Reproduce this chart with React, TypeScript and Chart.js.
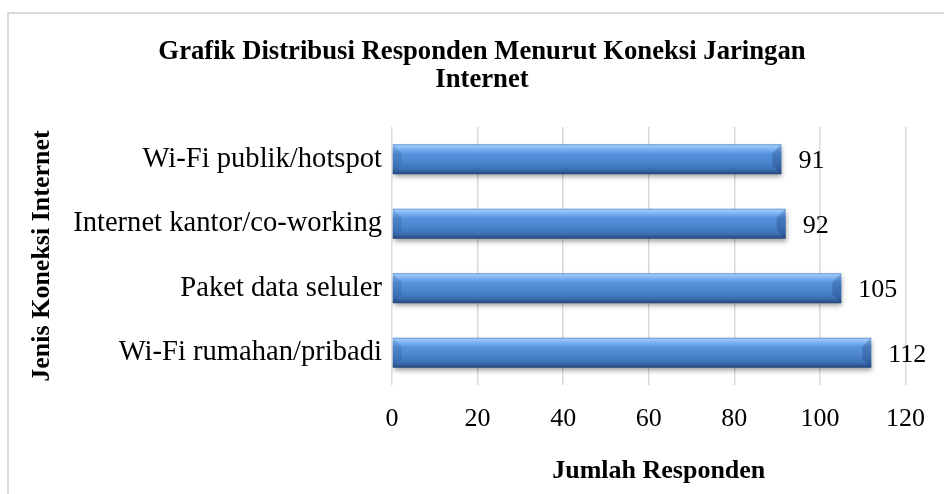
import { useEffect, useRef } from 'react';
import { Chart, registerables } from 'chart.js';

Chart.register(...registerables);

// ---- data ----
const categories = [
  'Wi-Fi publik/hotspot',
  'Internet kantor/co-working',
  'Paket data seluler',
  'Wi-Fi rumahan/pribadi',
];
const responden = [91, 92, 105, 112];
const xMin = 0;
const xMax = 120;
const xStep = 20;
const chartTitle = ['Grafik Distribusi Responden Menurut Koneksi Jaringan', 'Internet'];
const yAxisTitle = 'Jenis Koneksi Internet';
const xAxisTitle = 'Jumlah Responden';

const FONT = "'Liberation Serif', 'Times New Roman', serif";
const BAR_PCT = 0.466;

const barDecor = {
  id: 'barDecor',
  beforeDatasetsDraw(chart: any) {
    const c = chart.ctx;
    c.save();
    c.shadowColor = 'rgba(0,0,0,0.38)';
    c.shadowBlur = 5;
    c.shadowOffsetX = 1;
    c.shadowOffsetY = 3;
  },
  afterDatasetsDraw(chart: any) {
    const c = chart.ctx;
    c.restore();
    const meta = chart.getDatasetMeta(0);
    meta.data.forEach((el: any, i: number) => {
      const { x, y, base, height } = el.getProps(['x', 'y', 'base', 'height'], true);
      const top = y - height / 2;
      const bot = y + height / 2;
      const b = Math.min(9, height / 3);
      c.save();
      // left bevel face
      c.fillStyle = 'rgba(25,60,120,0.16)';
      c.beginPath();
      c.moveTo(base, top);
      c.lineTo(base + b, top + b);
      c.lineTo(base + b, bot - b);
      c.lineTo(base, bot);
      c.closePath();
      c.fill();
      // right bevel face
      c.fillStyle = 'rgba(15,40,90,0.24)';
      c.beginPath();
      c.moveTo(x, top);
      c.lineTo(x - b, top + b);
      c.lineTo(x - b, bot - b);
      c.lineTo(x, bot);
      c.closePath();
      c.fill();
      // value label
      c.fillStyle = '#000';
      c.font = `26px ${FONT}`;
      c.textAlign = 'left';
      c.textBaseline = 'middle';
      c.fillText(String(responden[i]), x + 17, y + 2);
      c.restore();
    });
    const area = chart.chartArea;
    c.save();
    c.fillStyle = '#000';
    c.textAlign = 'center';
    c.textBaseline = 'middle';
    // x axis title
    c.font = `bold 26px ${FONT}`;
    c.fillText(xAxisTitle, (area.left + area.right) / 2 + 10, 471);
    // chart title
    c.font = `bold 26.7px ${FONT}`;
    chartTitle.forEach((line, k) => {
      c.fillText(line, 482, 52 + k * 28.4);
    });
    c.restore();
  },
};

function barGradient(ctx: any) {
  const chart = ctx.chart;
  const ys = chart.scales && chart.scales.y;
  if (!ys || ctx.dataIndex === undefined || !chart.ctx) return '#4a86d0';
  const yc = ys.getPixelForValue(ctx.dataIndex);
  const band = ys.height / categories.length;
  const half = (band * BAR_PCT) / 2;
  if (!isFinite(yc) || !isFinite(half) || half <= 0) return '#4a86d0';
  const g = chart.ctx.createLinearGradient(0, yc - half, 0, yc + half);
  g.addColorStop(0, '#4f86cc');
  g.addColorStop(0.05, '#9ccaf8');
  g.addColorStop(0.18, '#77aef0');
  g.addColorStop(0.32, '#5593dc');
  g.addColorStop(0.6, '#4a84cc');
  g.addColorStop(0.82, '#3d72b8');
  g.addColorStop(0.9, '#335f9c');
  g.addColorStop(1, '#22457a');
  return g;
}

export default function App() {
  const ref = useRef<HTMLCanvasElement | null>(null);

  useEffect(() => {
    if (!ref.current) return;
    const chart = new Chart(ref.current, {
      type: 'bar',
      data: {
        labels: categories,
        datasets: [
          {
            data: responden,
            backgroundColor: barGradient,
            borderWidth: 0,
            barPercentage: BAR_PCT,
            categoryPercentage: 1,
          },
        ],
      },
      plugins: [barDecor],
      options: {
        indexAxis: 'y',
        responsive: false,
        animation: false,
        layout: { padding: { left: 20, right: 36, top: 127, bottom: 0 } },
        plugins: {
          legend: { display: false },
          tooltip: { enabled: false },
          title: { display: false },
        },
        scales: {
          x: {
            min: xMin,
            max: xMax,
            ticks: {
              stepSize: xStep,
              color: '#000',
              padding: 19,
              font: { family: FONT, size: 26, lineHeight: 1.2 },
            },
            grid: { color: '#d9d9d9', lineWidth: 1.5, drawTicks: false },
            border: { display: false },
            title: { display: false, text: xAxisTitle },
            afterFit: (s: any) => {
              s.height = 109;
            },
          },
          y: {
            ticks: {
              color: '#000',
              padding: 10,
              font: { family: FONT, size: 28.6, lineHeight: 1.2 },
            },
            grid: { display: false, drawTicks: false },
            border: { display: false },
            title: {
              display: true,
              text: yAxisTitle,
              color: '#000',
              font: { family: FONT, size: 26, weight: 'bold', lineHeight: 1.2 },
              padding: { top: 7, bottom: 0 },
            },
            afterFit: (s: any) => {
              s.width = 372;
            },
          },
        },
      },
    });
    return () => chart.destroy();
  }, []);

  return (
    <div
      style={{
        position: 'fixed',
        left: 0,
        top: 0,
        width: 944,
        height: 494,
        overflow: 'hidden',
        background: '#fff',
      }}
    >
      <div
        style={{
          position: 'absolute',
          left: 7,
          top: 12,
          width: 1000,
          height: 600,
          borderTop: '2px solid #d9d9d9',
          borderLeft: '2px solid #d9d9d9',
        }}
      />
      <canvas
        ref={ref}
        width={944}
        height={494}
        style={{ position: 'absolute', left: 0, top: 0, width: 944, height: 494 }}
      />
    </div>
  );
}
